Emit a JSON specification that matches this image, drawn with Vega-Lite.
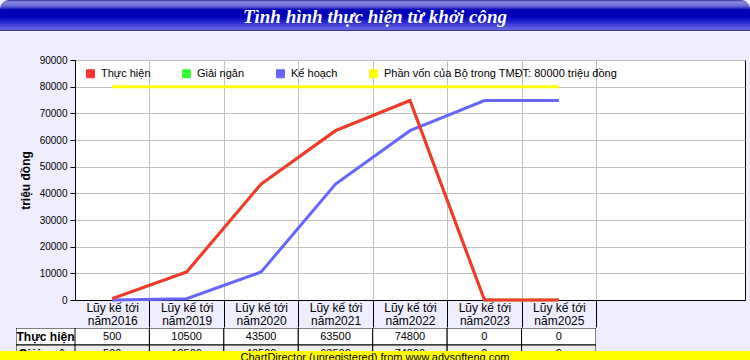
{
  "$schema": "https://vega.github.io/schema/vega-lite/v6.json",
  "background": "#eeeeff",
  "padding": 0,
  "spacing": 0,
  "config": {
    "font": "Liberation Sans",
    "view": {"stroke": null},
    "concat": {"spacing": 0}
  },
  "datasets": {
    "d": [
      {"period": "Lũy kế tới năm2016", "series": "Thực hiện", "value": 500},
      {"period": "Lũy kế tới năm2019", "series": "Thực hiện", "value": 10500},
      {"period": "Lũy kế tới năm2020", "series": "Thực hiện", "value": 43500},
      {"period": "Lũy kế tới năm2021", "series": "Thực hiện", "value": 63500},
      {"period": "Lũy kế tới năm2022", "series": "Thực hiện", "value": 74800},
      {"period": "Lũy kế tới năm2023", "series": "Thực hiện", "value": 0},
      {"period": "Lũy kế tới năm2025", "series": "Thực hiện", "value": 0},
      {"period": "Lũy kế tới năm2016", "series": "Giải ngân", "value": 500},
      {"period": "Lũy kế tới năm2019", "series": "Giải ngân", "value": 10500},
      {"period": "Lũy kế tới năm2020", "series": "Giải ngân", "value": 43500},
      {"period": "Lũy kế tới năm2021", "series": "Giải ngân", "value": 63500},
      {"period": "Lũy kế tới năm2022", "series": "Giải ngân", "value": 74800},
      {"period": "Lũy kế tới năm2023", "series": "Giải ngân", "value": 0},
      {"period": "Lũy kế tới năm2025", "series": "Giải ngân", "value": 0},
      {"period": "Lũy kế tới năm2016", "series": "Kế hoạch", "value": 0},
      {"period": "Lũy kế tới năm2019", "series": "Kế hoạch", "value": 500},
      {"period": "Lũy kế tới năm2020", "series": "Kế hoạch", "value": 10500},
      {"period": "Lũy kế tới năm2021", "series": "Kế hoạch", "value": 43500},
      {"period": "Lũy kế tới năm2022", "series": "Kế hoạch", "value": 63500},
      {"period": "Lũy kế tới năm2023", "series": "Kế hoạch", "value": 74800},
      {"period": "Lũy kế tới năm2025", "series": "Kế hoạch", "value": 74800},
      {"period": "Lũy kế tới năm2016", "series": "Phần vốn của Bộ trong TMĐT: 80000 triệu đồng", "value": 80000},
      {"period": "Lũy kế tới năm2019", "series": "Phần vốn của Bộ trong TMĐT: 80000 triệu đồng", "value": 80000},
      {"period": "Lũy kế tới năm2020", "series": "Phần vốn của Bộ trong TMĐT: 80000 triệu đồng", "value": 80000},
      {"period": "Lũy kế tới năm2021", "series": "Phần vốn của Bộ trong TMĐT: 80000 triệu đồng", "value": 80000},
      {"period": "Lũy kế tới năm2022", "series": "Phần vốn của Bộ trong TMĐT: 80000 triệu đồng", "value": 80000},
      {"period": "Lũy kế tới năm2023", "series": "Phần vốn của Bộ trong TMĐT: 80000 triệu đồng", "value": 80000},
      {"period": "Lũy kế tới năm2025", "series": "Phần vốn của Bộ trong TMĐT: 80000 triệu đồng", "value": 80000}
    ],
    "rows": [
      {"series": "Thực hiện"},
      {"series": "Giải ngân"},
      {"series": "Kế hoạch"}
    ],
    "title": [{"text": "Tình hình thực hiện từ khởi công"}],
    "banner": [{"text": "ChartDirector (unregistered) from www.advsofteng.com"}]
  },
  "vconcat": [
    {
      "width": 750,
      "height": 31,
      "data": {"name": "title"},
      "layer": [
        {
          "mark": {
            "type": "rect",
            "cornerRadiusTopLeft": 9,
            "cornerRadiusTopRight": 9,
            "fill": {
              "gradient": "linear", "x1": 0, "y1": 0, "x2": 0, "y2": 1,
              "stops": [
                {"offset": 0, "color": "#333399"},
                {"offset": 0.06, "color": "#8888dd"},
                {"offset": 0.2, "color": "#6666d4"},
                {"offset": 0.32, "color": "#0000b4"},
                {"offset": 0.55, "color": "#0000c0"},
                {"offset": 0.95, "color": "#6666e6"},
                {"offset": 1, "color": "#222255"}
              ]
            }
          },
          "encoding": {}
        },
        {
          "mark": {"type": "text", "font": "Liberation Serif", "fontStyle": "italic", "fontWeight": "bold", "fontSize": 19, "color": "white", "baseline": "middle", "dy": 1},
          "encoding": {"text": {"field": "text"}}
        }
      ]
    },
    {
      "width": 750,
      "height": 23,
      "data": {"values": []},
      "mark": "point"
    },
    {
      "bounds": "flush",
      "spacing": 0,
      "hconcat": [
        {
          "width": 75,
          "height": 240,
          "data": {"values": []},
          "mark": "point"
        },
        {
          "width": 670,
          "height": 240,
          "view": {"fill": "white", "stroke": "black", "strokeWidth": 1},
          "data": {"name": "d"},
          "encoding": {
            "x": {
              "field": "period",
              "type": "nominal",
              "bandPosition": 0.5,
              "scale": {
                "type": "band",
                "domain": ["Lũy kế tới năm2016", "Lũy kế tới năm2019", "Lũy kế tới năm2020", "Lũy kế tới năm2021", "Lũy kế tới năm2022", "Lũy kế tới năm2023", "Lũy kế tới năm2025", " ", "  "],
                "paddingInner": 0,
                "paddingOuter": 0
              },
              "axis": {
                "title": null,
                "tickBand": "extent",
                "grid": true,
                "gridColor": {"condition": {"test": "indexof(datum.value + '', 'năm') > 0", "value": "#c0c0c0"}, "value": "transparent"},
                "gridWidth": 1,
                "domainColor": "black",
                "tickColor": {"condition": {"test": "indexof(datum.value + '', 'năm') > 0", "value": "black"}, "value": "transparent"},
                "tickSize": 27,
                "labelPadding": -25,
                "labelAngle": 0,
                "labelBaseline": "top",
                "labelFontSize": 12,
                "labelLineHeight": 13,
                "labelColor": "black",
                "labelExpr": "indexof(datum.label + '', ' năm') > 0 ? [split(datum.label, ' năm')[0], 'năm' + split(datum.label, ' năm')[1]] : ''"
              }
            },
            "y": {
              "field": "value",
              "type": "quantitative",
              "scale": {"domain": [0, 90000], "nice": false},
              "axis": {
                "title": "triệu đồng",
                "titleFontSize": 12,
                "titleFontWeight": "bold",
                "titleColor": "black",
                "titlePadding": 7,
                "values": [0, 10000, 20000, 30000, 40000, 50000, 60000, 70000, 80000, 90000],
                "format": "d",
                "grid": true,
                "gridColor": "#c0c0c0",
                "domainColor": "black",
                "tickColor": "black",
                "tickSize": 5,
                "labelPadding": 3,
                "labelFontSize": 10,
                "labelColor": "black",
                "labelFlush": false
              }
            },
            "color": {
              "field": "series",
              "type": "nominal",
              "scale": {
                "domain": ["Thực hiện", "Giải ngân", "Kế hoạch", "Phần vốn của Bộ trong TMĐT: 80000 triệu đồng"],
                "range": ["#ff3333", "#33ff33", "#6666ff", "#ffff00"]
              },
              "legend": {
                "title": null,
                "orient": "none",
                "legendX": 85,
                "legendY": 68,
                "direction": "horizontal",
                "columns": 4,
                "padding": 0,
                "symbolType": "square",
                "symbolSize": 64,
                "symbolStrokeWidth": 1,
                "labelFontSize": 11,
                "labelColor": "black",
                "labelOffset": 5,
                "labelLimit": 400,
                "columnPadding": 29,
                "encode": {
                  "symbols": {
                    "update": {
                      "fill": {"scale": "color", "field": "value"},
                      "stroke": {"value": "black"},
                      "strokeWidth": {"value": 1},
                      "shape": {"value": "square"},
                      "opacity": {"value": 1},
                      "fillOpacity": {"value": 1}
                    }
                  }
                }
              }
            }
          },
          "layer": [
            {
              "transform": [{"filter": "datum.series === 'Phần vốn của Bộ trong TMĐT: 80000 triệu đồng'"}],
              "mark": {"type": "line", "strokeWidth": 3}
            },
            {
              "transform": [{"filter": "datum.series === 'Giải ngân'"}],
              "mark": {"type": "line", "strokeWidth": 3}
            },
            {
              "transform": [{"filter": "datum.series === 'Kế hoạch'"}],
              "mark": {"type": "line", "strokeWidth": 3}
            },
            {
              "transform": [{"filter": "datum.series === 'Thực hiện'"}],
              "mark": {"type": "line", "strokeWidth": 3}
            }
          ]
        }
      ]
    },
    {
      "bounds": "flush",
      "spacing": 0,
      "hconcat": [
        {
          "width": 16,
          "height": 23,
          "data": {"values": []},
          "mark": "point"
        },
        {
          "width": 59,
          "height": 23,
          "data": {"name": "rows"},
          "encoding": {
            "y": {
              "field": "series",
              "type": "nominal",
              "scale": {"domain": ["Thực hiện", "Giải ngân", "Kế hoạch"], "range": [0, 51], "paddingInner": 0, "paddingOuter": 0},
              "axis": null
            }
          },
          "layer": [
            {
              "mark": {"type": "rect", "stroke": "black", "strokeWidth": 1, "clip": true},
              "encoding": {
                "fill": {"field": "series", "type": "nominal", "scale": {"domain": ["Thực hiện", "Giải ngân", "Kế hoạch"], "range": ["#ffffff", "#eeeeee", "#ffffff"]}, "legend": null}
              }
            },
            {
              "mark": {"type": "text", "fontWeight": "bold", "fontSize": 12, "color": "black", "clip": true},
              "encoding": {"text": {"field": "series"}}
            }
          ]
        },
        {
          "width": 521,
          "height": 23,
          "data": {"name": "d"},
          "transform": [{"filter": {"field": "series", "oneOf": ["Thực hiện", "Giải ngân", "Kế hoạch"]}}],
          "encoding": {
            "x": {
              "field": "period",
              "type": "nominal",
              "scale": {
                "domain": ["Lũy kế tới năm2016", "Lũy kế tới năm2019", "Lũy kế tới năm2020", "Lũy kế tới năm2021", "Lũy kế tới năm2022", "Lũy kế tới năm2023", "Lũy kế tới năm2025"],
                "paddingInner": 0,
                "paddingOuter": 0
              },
              "axis": null
            },
            "y": {
              "field": "series",
              "type": "nominal",
              "scale": {"domain": ["Thực hiện", "Giải ngân", "Kế hoạch"], "range": [0, 51], "paddingInner": 0, "paddingOuter": 0},
              "axis": null
            }
          },
          "layer": [
            {
              "mark": {"type": "rect", "stroke": "black", "strokeWidth": 1, "clip": true},
              "encoding": {
                "fill": {"field": "series", "type": "nominal", "scale": {"domain": ["Thực hiện", "Giải ngân", "Kế hoạch"], "range": ["#ffffff", "#eeeeee", "#ffffff"]}, "legend": null}
              }
            },
            {
              "mark": {"type": "text", "fontSize": 11, "color": "black", "clip": true},
              "encoding": {"text": {"field": "value", "type": "quantitative", "format": "d"}}
            }
          ]
        }
      ]
    },
    {
      "width": 750,
      "height": 9,
      "data": {"name": "banner"},
      "layer": [
        {"mark": {"type": "rect", "fill": "#ffff00"}, "encoding": {}},
        {
          "mark": {"type": "text", "fontSize": 11, "color": "black", "baseline": "top", "dy": -4, "clip": true},
          "encoding": {"text": {"field": "text"}}
        }
      ]
    }
  ]
}
